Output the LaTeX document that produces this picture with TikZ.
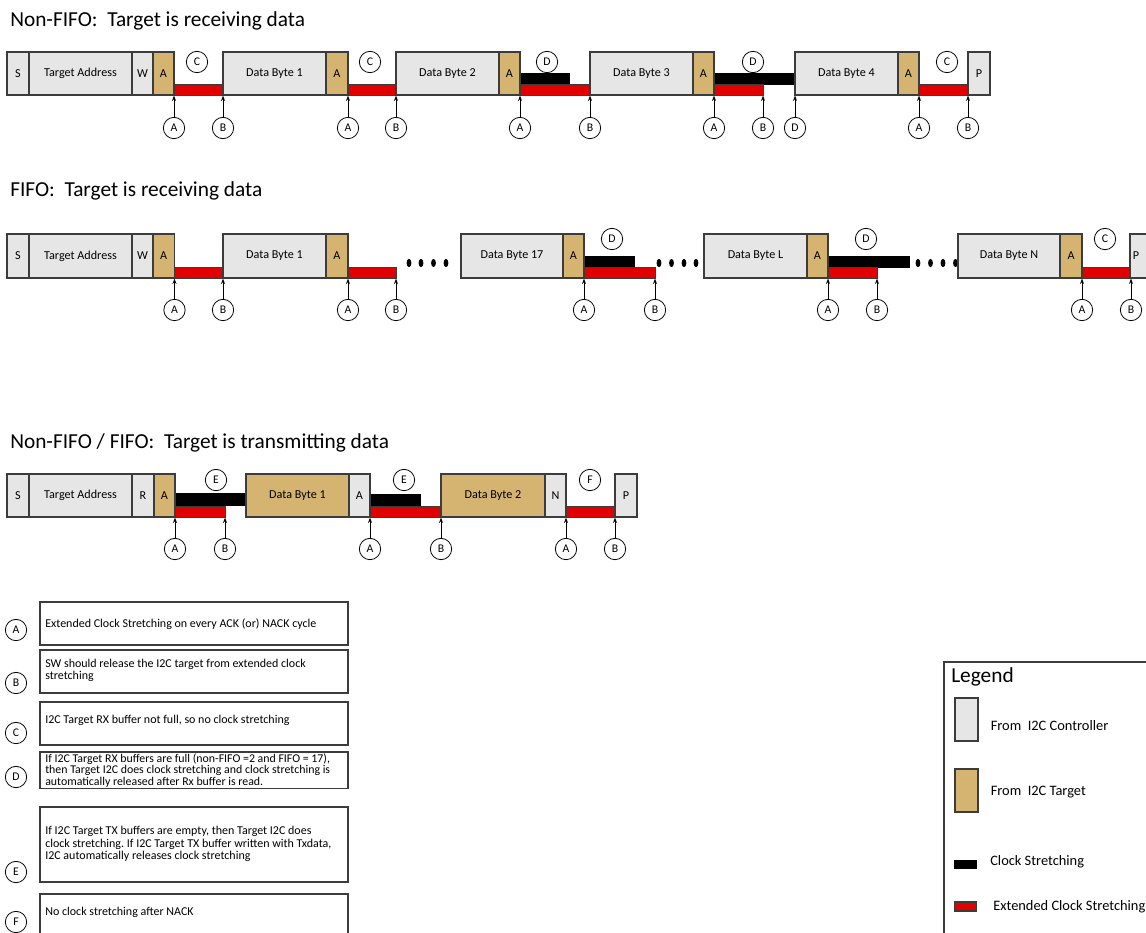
\documentclass[tikz,border=0pt]{standalone}
\usepackage{fontspec}
\setmainfont{Carlito}
\usetikzlibrary{arrows.meta}
\definecolor{ctrlgray}{RGB}{231,230,230}
\definecolor{tgttan}{RGB}{212,180,112}
\definecolor{xred}{RGB}{224,0,0}
\definecolor{edgec}{RGB}{60,60,60}
\frenchspacing
\tikzset{
  fieldbase/.style={draw=edgec, line width=0.9pt, inner sep=0pt, font=\fontsize{9.1}{10}\selectfont},
  ctrl/.style={fieldbase, fill=ctrlgray},
  tgt/.style={fieldbase, fill=tgttan},
  lbl/.style={circle, draw=black, line width=0.6pt, minimum size=16pt, inner sep=0pt, font=\fontsize{8.8}{9}\selectfont},
  arr/.style={-{Stealth[length=4pt,width=3pt]}, line width=0.6pt},
  redbar/.style={fill=xred, draw=edgec, line width=0.6pt},
  blkbar/.style={fill=black, draw=black, line width=0.6pt},
  dotmark/.style={fill=black},
  titletxt/.style={anchor=base west, font=\fontsize{16}{19}\selectfont, inner sep=0pt},
  notebox/.style={draw=edgec, line width=0.8pt, inner sep=0pt},
  notetxt/.style={anchor=west, align=left, inner sep=0pt, font=\fontsize{9}{9.3}\selectfont},
  legtxt/.style={anchor=west, inner sep=0pt, font=\fontsize{10.8}{12}\selectfont},
  swatch/.style={draw=edgec, line width=0.8pt},
}
\newcommand\bitfield[7]{%
  \node[#1, minimum width={(#4-#3)*0.75pt}, minimum height={(#6-#5)*0.75pt}] (#2) at ({(#3+#4)/2},{(#5+#6)/2}) {#7};}
\newcommand\notefield[3]{% name, y1, y2
  \node[notebox, minimum width={(348-40)*0.75pt}, minimum height={(#3-#2)*0.75pt}] (#1) at (194,{(#2+#3)/2}) {};}
\begin{document}
\begin{tikzpicture}[x=0.75pt, y=-0.75pt]
\useasboundingbox (0,0) rectangle (1146,932);

% ---------------- Row 1 ----------------
\node[titletxt] (t1) at (10,26.7) {Non-FIFO:\ \ Target is receiving data};
\draw[redbar] (174,84) rectangle (223,95);
\draw[redbar] (348,84) rectangle (396,95);
\draw[blkbar] (520,73) rectangle (569,84);
\draw[redbar] (520,84) rectangle (590,95);
\draw[blkbar] (714,73) rectangle (795,84);
\draw[redbar] (714,84) rectangle (763,95);
\draw[redbar] (919,84) rectangle (968,95);
\bitfield{ctrl}{r1S}{7}{29}{52}{95}{S}
\bitfield{ctrl}{r1TA}{29}{132}{52}{95}{Target Address}
\bitfield{ctrl}{r1W}{132}{153}{52}{95}{W}
\bitfield{tgt}{r1A0}{153}{174}{52}{95}{A}
\bitfield{ctrl}{r1D1}{223}{326}{52}{95}{Data Byte 1}
\bitfield{tgt}{r1A1}{326}{348}{52}{95}{A}
\bitfield{ctrl}{r1D2}{396}{499}{52}{95}{Data Byte 2}
\bitfield{tgt}{r1A2}{499}{520}{52}{95}{A}
\bitfield{ctrl}{r1D3}{590}{693}{52}{95}{Data Byte 3}
\bitfield{tgt}{r1A3}{693}{714}{52}{95}{A}
\bitfield{ctrl}{r1D4}{795}{898}{52}{95}{Data Byte 4}
\bitfield{tgt}{r1A4}{898}{919}{52}{95}{A}
\bitfield{ctrl}{r1P}{968}{990}{52}{95}{P}
\foreach \n/\x/\l in {1/197/C,2/370/C,3/547/D,4/753/D,5/947/C}
  \node[lbl] (r1t\n) at (\x,62) {\l};
\foreach \n/\x/\l in {1/174/A,2/223/B,3/348/A,4/396/B,5/520/A,6/590/B,7/714/A,8/763/B,9/795/D,10/919/A,11/968/B}{
  \node[lbl] (r1b\n) at (\x,128) {\l};
  \draw[arr] (r1b\n) -- (r1b\n |- r1S.south);
}

% ---------------- Row 2 ----------------
\node[titletxt] (t2) at (10,196.7) {FIFO:\ \ Target is receiving data};
\draw[redbar] (174.5,267) rectangle (223,278);
\draw[redbar] (348,267) rectangle (396,278);
\draw[blkbar] (584,256) rectangle (634,267);
\draw[redbar] (584,267) rectangle (655,278);
\draw[blkbar] (828,256) rectangle (909,267);
\draw[redbar] (828,267) rectangle (877,278);
\draw[redbar] (1082,267) rectangle (1130,278);
\foreach \x in {409,421,433.5,446,659,671.5,684,696,918,930.5,943,955.5}
  \fill[dotmark] (\x,263) ellipse [x radius=1.8pt, y radius=3.1pt];
\bitfield{ctrl}{r2S}{7}{29}{234}{278}{S}
\bitfield{ctrl}{r2TA}{29}{132}{234}{278}{Target Address}
\bitfield{ctrl}{r2W}{132}{153}{234}{278}{W}
\bitfield{tgt}{r2A0}{153}{174.5}{234}{278}{A}
\bitfield{ctrl}{r2D1}{223}{326}{234}{278}{Data Byte 1}
\bitfield{tgt}{r2A1}{326}{348}{234}{278}{A}
\bitfield{ctrl}{r2D17}{461}{563}{234}{278}{Data Byte 17}
\bitfield{tgt}{r2A2}{563}{584}{234}{278}{A}
\bitfield{ctrl}{r2DL}{704}{807}{234}{278}{Data Byte L}
\bitfield{tgt}{r2A3}{807}{828}{234}{278}{A}
\bitfield{ctrl}{r2DN}{958}{1060}{234}{278}{Data Byte N}
\bitfield{tgt}{r2A4}{1060}{1082}{234}{278}{A}
\node[ctrl, minimum width={30*0.75pt}, minimum height={44*0.75pt}, text width=0pt] (r2P) at (1145,256) {};
\node[inner sep=0pt, font=\fontsize{9.1}{10}\selectfont] (r2Ptxt) at (1136,256) {P};
\foreach \n/\x/\l in {1/612/D,2/866/D,3/1105/C}
  \node[lbl] (r2t\n) at (\x,239) {\l};
\foreach \n/\x/\l in {1/174.5/A,2/223/B,3/348/A,4/396/B,5/584/A,6/655/B,7/828/A,8/877/B,9/1082/A,10/1131/B}{
  \node[lbl] (r2b\n) at (\x,310) {\l};
  \draw[arr] (r2b\n) -- (r2b\n |- r2S.south);
}

% ---------------- Row 3 ----------------
\node[titletxt] (t3) at (10,448) {Non-FIFO / FIFO:\ \ Target is transmitting data};
\draw[blkbar] (175,493) rectangle (246,505);
\draw[redbar] (175,506.5) rectangle (225,517);
\draw[blkbar] (370,494) rectangle (420,505.5);
\draw[redbar] (370,506) rectangle (441,517);
\draw[redbar] (566,506) rectangle (615,517);
\bitfield{ctrl}{r3S}{7}{29}{474}{517}{S}
\bitfield{ctrl}{r3TA}{29}{132}{474}{517}{Target Address}
\bitfield{ctrl}{r3R}{132}{154}{474}{517}{R}
\bitfield{tgt}{r3A0}{154}{175}{474}{517}{A}
\bitfield{tgt}{r3D1}{246}{349}{474}{517}{Data Byte 1}
\bitfield{ctrl}{r3A1}{349}{370}{474}{517}{A}
\bitfield{tgt}{r3D2}{441}{545}{474}{517}{Data Byte 2}
\bitfield{ctrl}{r3N}{545}{566}{474}{517}{N}
\bitfield{ctrl}{r3P}{615}{637}{474}{517}{P}
\foreach \n/\x/\l in {1/216/E,2/404/E,3/590/F}
  \node[lbl] (r3t\n) at (\x,480) {\l};
\foreach \n/\x/\l in {1/175/A,2/225/B,3/370/A,4/441/B,5/566/A,6/615/B}{
  \node[lbl] (r3b\n) at (\x,549) {\l};
  \draw[arr] (r3b\n) -- (r3b\n |- r3S.south);
}

% ---------------- Notes ----------------
\notefield{nA}{602}{645}
\notefield{nB}{650}{693}
\notefield{nC}{702}{745}
\notefield{nD}{752}{788.5}
\notefield{nE}{807}{882}
\notefield{nF}{894}{945}
\node[notetxt] (ntA) at (45,624) {Extended Clock Stretching on every ACK (or) NACK cycle};
\node[notetxt] (ntB) at (45,670.5) {SW should release the I2C target from extended clock\\stretching};
\node[notetxt] (ntC) at (45,720) {I2C Target RX buffer not full, so no clock stretching};
\node[notetxt, font=\fontsize{8.9}{8.8}\selectfont] (ntD) at (45,770.5) {If I2C Target RX buffers are full (non-FIFO =2 and FIFO = 17),\\then Target I2C does clock stretching and clock stretching is\\automatically released after Rx buffer is read.};
\node[notetxt] (ntE) at (45,844) {If I2C Target TX buffers are empty, then Target I2C does\\clock stretching. If I2C Target TX buffer written with Txdata,\\I2C automatically releases clock stretching};
\node[notetxt] (ntF) at (45,912) {No clock stretching after NACK};
\foreach \n/\y/\l in {A/630/A,B/683/B,C/733/C,D/777/D,E/872/E,F/922/F}
  \node[lbl] (nc\n) at (16,\y) {\l};

% ---------------- Legend ----------------
\draw[draw=edgec, line width=0.8pt] (944,662) rectangle (1160,945);
\node[anchor=west, inner sep=0pt, font=\fontsize{16}{19}\selectfont] (lgT) at (951,677) {Legend};
\draw[swatch, fill=ctrlgray] (955,698) rectangle (978,741);
\node[legtxt] (lg1) at (990.5,726) {From\ \ I2C Controller};
\draw[swatch, fill=tgttan] (955,769) rectangle (978,812);
\node[legtxt] (lg2) at (990.5,792) {From\ \ I2C Target};
\draw[fill=black, draw=black] (954.5,860) rectangle (976.5,868);
\node[legtxt] (lg3) at (990,862) {Clock Stretching};
\draw[swatch, fill=xred] (954.5,902) rectangle (976.5,911);
\node[legtxt] (lg4) at (993,907) {Extended Clock Stretching};
\end{tikzpicture}
\end{document}
